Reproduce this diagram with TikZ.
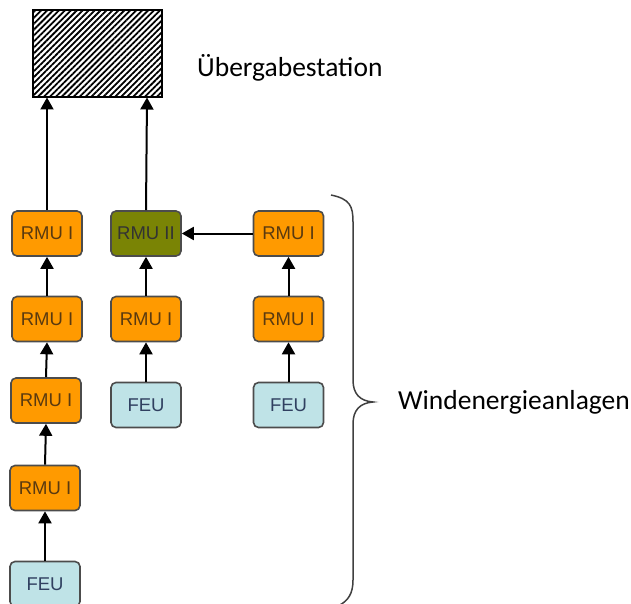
\documentclass[tikz,border=0pt]{standalone}
\usepackage{fontspec}
\setmainfont{Carlito}
\newfontfamily\boxfont{Liberation Sans}
\usetikzlibrary{arrows.meta,patterns.meta}
\definecolor{rmuor}{HTML}{FF9A00}
\definecolor{rmuol}{HTML}{7A8405}
\definecolor{feubl}{HTML}{BFE3E7}
\definecolor{rmutx}{HTML}{5A3A10}
\definecolor{feutx}{HTML}{304060}
\tikzset{
  x=1pt,y=-1pt,
  unit/.style={draw=black!70,line width=1.6pt,rounded corners=5pt,minimum width=70pt,minimum height=45pt,inner sep=0pt,font=\boxfont\fontsize{18.5}{18.5}\selectfont},
  rmu/.style={unit,fill=rmuor,text=rmutx},
  rmutwo/.style={unit,fill=rmuol,text=black!80},
  feu/.style={unit,fill=feubl,text=feutx},
  conn/.style={line width=2pt,-{Triangle[length=12pt,width=13pt]}},
  bigtext/.style={font=\fontsize{27.5}{27.5}\selectfont,anchor=west,inner sep=0pt}
}
\begin{document}
\begin{tikzpicture}
\useasboundingbox (0,0) rectangle (631,604);
% station
\node[draw=black,line width=1.4pt,minimum width=129pt,minimum height=87pt,inner sep=0pt,
  pattern={Lines[distance=4.2pt,angle=45,line width=1.8pt]}] (st) at (97.5,53.5) {};
\coordinate (st1) at (47,97.5);
\coordinate (st2) at (147,97.5);
\node[bigtext] (tst) at (197,68) {Übergabestation};
% column 1
\node[rmu] (a1) at (47,233.5) {RMU I};
\node[rmu] (a2) at (47,319) {RMU I};
\node[rmu] (a3) at (46,400.5) {RMU I};
\node[rmu] (a4) at (45,488) {RMU I};
\node[feu] (a5) at (45,584) {FEU};
% column 2
\node[rmutwo] (b1) at (146,233.5) {RMU II};
\node[rmu] (b2) at (146,319) {RMU I};
\node[feu] (b3) at (146,405) {FEU};
% column 3
\node[rmu] (c1) at (288.5,233.5) {RMU I};
\node[rmu] (c2) at (288.5,319) {RMU I};
\node[feu] (c3) at (288.5,405) {FEU};
% connectors
\draw[conn] (a1.north) -- (st1);
\draw[conn] (b1.north) -- (st2);
\draw[conn] (a2.north) -- (a1.south);
\draw[conn] (a3.north) -- (a2.south);
\draw[conn] (a4.north) -- (a3.south);
\draw[conn] (a5.north) -- (a4.south);
\draw[conn] (b2) -- (b1);
\draw[conn] (b3) -- (b2);
\draw[conn] (c2) -- (c1);
\draw[conn] (c3) -- (c2);
\draw[conn] (c1) -- (b1);
% brace
\coordinate (br) at (373,402);
\draw[black!75,line width=1.5pt] (331,195) .. controls (350,199) and (353,206) .. (353,222)
  -- (353,380) .. controls (353,394) and (360,401) .. (br)
  .. controls (360,403) and (353,410) .. (353,424)
  -- (353,580) .. controls (353,594) and (348,601) .. (338,606);
\node[bigtext] (twe) at (398,402) {Windenergieanlagen};
\end{tikzpicture}
\end{document}
